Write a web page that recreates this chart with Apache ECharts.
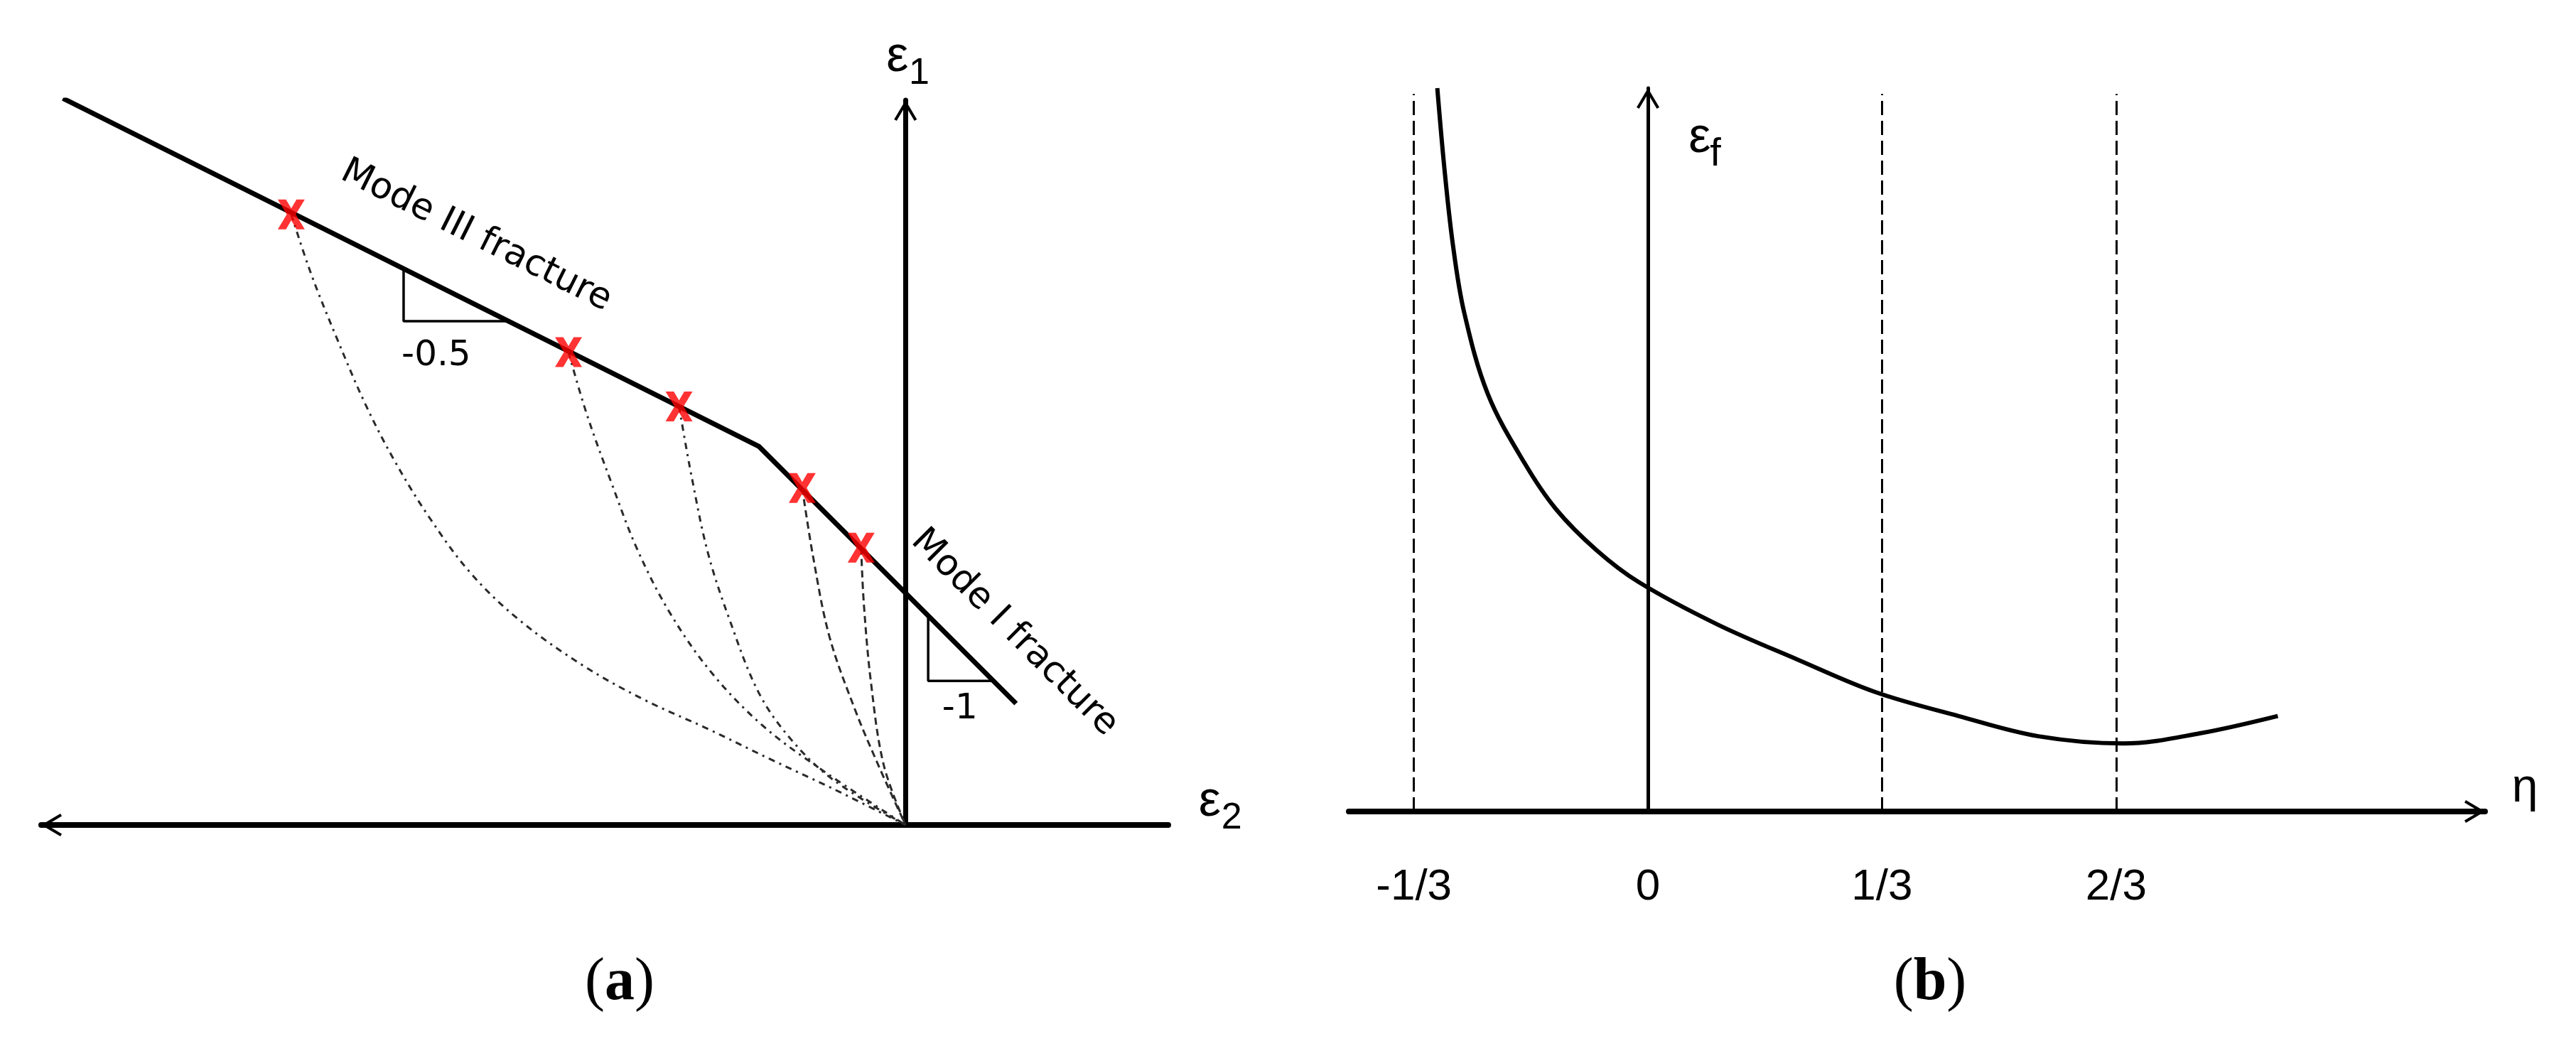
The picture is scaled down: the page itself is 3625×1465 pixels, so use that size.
<!DOCTYPE html>
<html>
<head>
<meta charset="utf-8">
<title>Fracture strain sketches</title>
<script src="https://cdn.jsdelivr.net/npm/echarts@6/dist/echarts.min.js"></script>
<style>
  html, body { margin: 0; padding: 0; background: #fff; }
  #chart { width: 3625px; height: 1465px; }
</style>
</head>
<body>
<div id="chart"></div>
<script>
// (a) strain space: eps2 on x, eps1 on y (schematic units, equal scale)
const failureLine = [[-4.65, 4.01], [-0.81, 2.09], [0.61, 0.67]]
const fractureMarks = [[-3.39, 3.37], [-1.86, 2.61], [-1.25, 2.31], [-0.57, 1.86], [-0.245, 1.53]]
const loadPath1 = [[-3.39, 3.37], [-3.28, 3.04], [-3.14, 2.69], [-2.98, 2.32], [-2.82, 2.01], [-2.63, 1.70], [-2.40, 1.39], [-2.13, 1.13], [-1.78, 0.88], [-1.44, 0.69], [-1.09, 0.53], [-0.74, 0.36], [-0.40, 0.20], [0, 0]]
const loadPath2 = [[-1.86, 2.61], [-1.76, 2.27], [-1.62, 1.88], [-1.48, 1.52], [-1.30, 1.17], [-1.07, 0.84], [-0.79, 0.55], [-0.47, 0.31], [0, 0]]
const loadPath3 = [[-1.25, 2.31], [-1.18, 1.92], [-1.09, 1.50], [-0.97, 1.13], [-0.81, 0.73], [-0.63, 0.47], [-0.40, 0.25], [0, 0]]
const loadPath4 = [[-0.57, 1.86], [-0.51, 1.48], [-0.42, 1.04], [-0.28, 0.64], [-0.15, 0.33], [0, 0]]
const loadPath5 = [[-0.245, 1.53], [-0.23, 1.22], [-0.19, 0.78], [-0.12, 0.33], [0, 0]]
const slopeMarkIII = [[-2.77, 3.07], [-2.77, 2.78], [-2.20, 2.78]]
const slopeMarkI = [[0.125, 1.155], [0.125, 0.795], [0.485, 0.795]]

// (b) fracture strain vs stress triaxiality
const etaValues = [-0.300, -0.290, -0.278, -0.262, -0.228, -0.176, -0.131, -0.073, -0.013, 0.098, 0.213, 0.324, 0.442, 0.556, 0.677, 0.786, 0.897]
const epsFValues = [10.0, 8.90, 7.85, 6.91, 5.77, 4.82, 4.18, 3.61, 3.17, 2.59, 2.10, 1.65, 1.32, 1.04, 0.94, 1.08, 1.32]
const etaTicks = [-1 / 3, 0, 1 / 3, 2 / 3]
const etaTickLabels = ['-1/3', '0', '1/3', '2/3']
const refLines = [-1 / 3, 1 / 3, 2 / 3]
const refLineTop = 9.92

const chart = echarts.init(document.getElementById('chart'))

const arrowHead = 'path://M16 0 L32 27 L28.5 29 L16 8 L3.5 29 L0 27 Z'
const crossMark = 'path://M0 0 L11 0 L18 12 L25 0 L36 0 L24 20 L36 40 L25 40 L18 28 L11 40 L0 40 L12 20 Z'

const plainAxis = (gridIndex, min, max, line, extra = {}) => ({
  type: 'value',
  gridIndex,
  min,
  max,
  axisLine: {
    onZero: true,
    symbolSize: [32, 29],
    ...line,
  },
  axisTick: { show: false },
  axisLabel: { show: false },
  splitLine: { show: false },
  ...extra,
})

const pathStyle = (dash) => ({ color: '#2a2a2a', width: 3, type: dash })

const loadPaths = [
  { data: loadPath1, dash: [9, 7, 3, 7] },
  { data: loadPath2, dash: [9, 7, 3, 7] },
  { data: loadPath3, dash: [9, 7, 3, 7] },
  { data: loadPath4, dash: [10, 6] },
  { data: loadPath5, dash: [10, 6] },
]

chart.setOption({
  animation: false,
  backgroundColor: '#fff',
  grid: [
    { left: 58, top: 141, width: 1586, height: 1020, outerBoundsMode: 'none' },
    { left: 1898, top: 124, width: 1599, height: 1018, outerBoundsMode: 'none' },
  ],
  xAxis: [
    plainAxis(0, -4.77, 1.45, {
      symbol: [arrowHead, 'none'],
      symbolOffset: [14.5, 0],
      lineStyle: { color: '#000', width: 8 },
    }),
    plainAxis(1, -0.4261, 1.1921, {
      symbol: ['none', arrowHead],
      symbolOffset: [0, -14.5],
      lineStyle: { color: '#000', width: 8 },
    }, {
      axisLabel: {
        show: true,
        customValues: etaTicks,
        formatter: (v) => etaTickLabels[etaTicks.findIndex((t) => Math.abs(t - v) < 1e-6)] ?? '',
        margin: 76,
        fontFamily: 'Liberation Sans',
        fontSize: 62,
        color: '#000',
      },
    }),
  ],
  yAxis: [
    plainAxis(0, 0, 4, {
      symbol: ['none', arrowHead],
      symbolOffset: [0, -14.5],
      lineStyle: { color: '#000', width: 7 },
    }),
    plainAxis(1, 0, 10, {
      symbol: ['none', arrowHead],
      symbolOffset: [0, -14.5],
      lineStyle: { color: '#000', width: 5 },
    }),
  ],
  series: [
    ...loadPaths.map((p) => ({
      type: 'line',
      xAxisIndex: 0,
      yAxisIndex: 0,
      data: p.data,
      smooth: 0.35,
      symbol: 'none',
      silent: true,
      lineStyle: pathStyle(p.dash),
      z: 2,
    })),
    {
      type: 'line',
      xAxisIndex: 0,
      yAxisIndex: 0,
      data: failureLine,
      symbol: 'none',
      silent: true,
      lineStyle: { color: '#000', width: 7 },
      z: 3,
    },
    {
      type: 'line',
      xAxisIndex: 0,
      yAxisIndex: 0,
      data: slopeMarkIII,
      symbol: 'none',
      silent: true,
      lineStyle: { color: '#000', width: 3.5 },
      z: 3,
    },
    {
      type: 'line',
      xAxisIndex: 0,
      yAxisIndex: 0,
      data: slopeMarkI,
      symbol: 'none',
      silent: true,
      lineStyle: { color: '#000', width: 3.5 },
      z: 3,
    },
    {
      type: 'scatter',
      xAxisIndex: 0,
      yAxisIndex: 0,
      data: fractureMarks,
      symbol: crossMark,
      symbolSize: [38, 42],
      silent: true,
      itemStyle: { color: '#ff0000' },
      z: 5,
    },
    {
      type: 'line',
      xAxisIndex: 1,
      yAxisIndex: 1,
      data: etaValues.map((x, i) => [x, epsFValues[i]]),
      smooth: 0.35,
      symbol: 'none',
      silent: true,
      lineStyle: { color: '#000', width: 6 },
      z: 3,
      markLine: {
        silent: true,
        symbol: ['none', 'none'],
        label: { show: false },
        lineStyle: { color: '#000', width: 3, type: [20, 8] },
        data: refLines.map((x) => [{ coord: [x, 0] }, { coord: [x, refLineTop] }]),
      },
    },
  ],
})

// text notes, anchored in each panel's data units
const notes = [
  { grid: 0, at: [-2.37, 3.25], text: 'Mode III fracture', size: 51, family: 'DejaVu Sans', rotate: -Math.atan(0.5) },
  { grid: 0, at: [0.60, 1.06], text: 'Mode I fracture', size: 51, family: 'DejaVu Sans', rotate: -Math.PI / 4 },
  { grid: 0, at: [-2.59, 2.59], text: '-0.5', size: 50, family: 'DejaVu Sans' },
  { grid: 0, at: [0.30, 0.64], text: '-1', size: 50, family: 'DejaVu Sans' },
  { grid: 0, at: [-0.045, 4.235], text: 'ε', size: 70 },
  { grid: 0, at: [0.075, 4.147], text: '1', size: 52 },
  { grid: 0, at: [1.679, 0.125], text: 'ε', size: 70 },
  { grid: 0, at: [1.800, 0.037], text: '2', size: 52 },
  { grid: 1, at: [0.0737, 9.306], text: 'ε', size: 70 },
  { grid: 1, at: [0.0960, 9.085], text: 'f', size: 56 },
  { grid: 1, at: [1.2488, 0.314], text: 'η', size: 66 },
]

const textEl = (x, y, text, size, family, rotate) => ({
  type: 'text',
  x,
  y,
  rotation: rotate || 0,
  silent: true,
  style: {
    text,
    fill: '#000',
    fontSize: size,
    fontFamily: family || 'Liberation Sans',
    align: 'center',
    verticalAlign: 'middle',
    textAlign: 'center',
    textVerticalAlign: 'middle',
  },
})

const caption = (x, letter) => ({
  type: 'text',
  x,
  y: 1384,
  silent: true,
  style: {
    text: `{p|(}{b|${letter}}{p|)}`,
    align: 'center',
    verticalAlign: 'middle',
    textAlign: 'center',
    textVerticalAlign: 'middle',
    rich: {
      p: { fontFamily: 'Liberation Serif', fontSize: 84, fill: '#000', color: '#000' },
      b: { fontFamily: 'Liberation Serif', fontSize: 84, fontWeight: 'bold', fill: '#000', color: '#000' },
    },
  },
})

const elements = notes.map((n) => {
  const [x, y] = chart.convertToPixel({ gridIndex: n.grid }, n.at)
  return textEl(x, y, n.text, n.size, n.family, n.rotate)
})
elements.push(caption(872, 'a'), caption(2716, 'b'))

chart.setOption({ graphic: { elements } })
</script>
</body>
</html>
